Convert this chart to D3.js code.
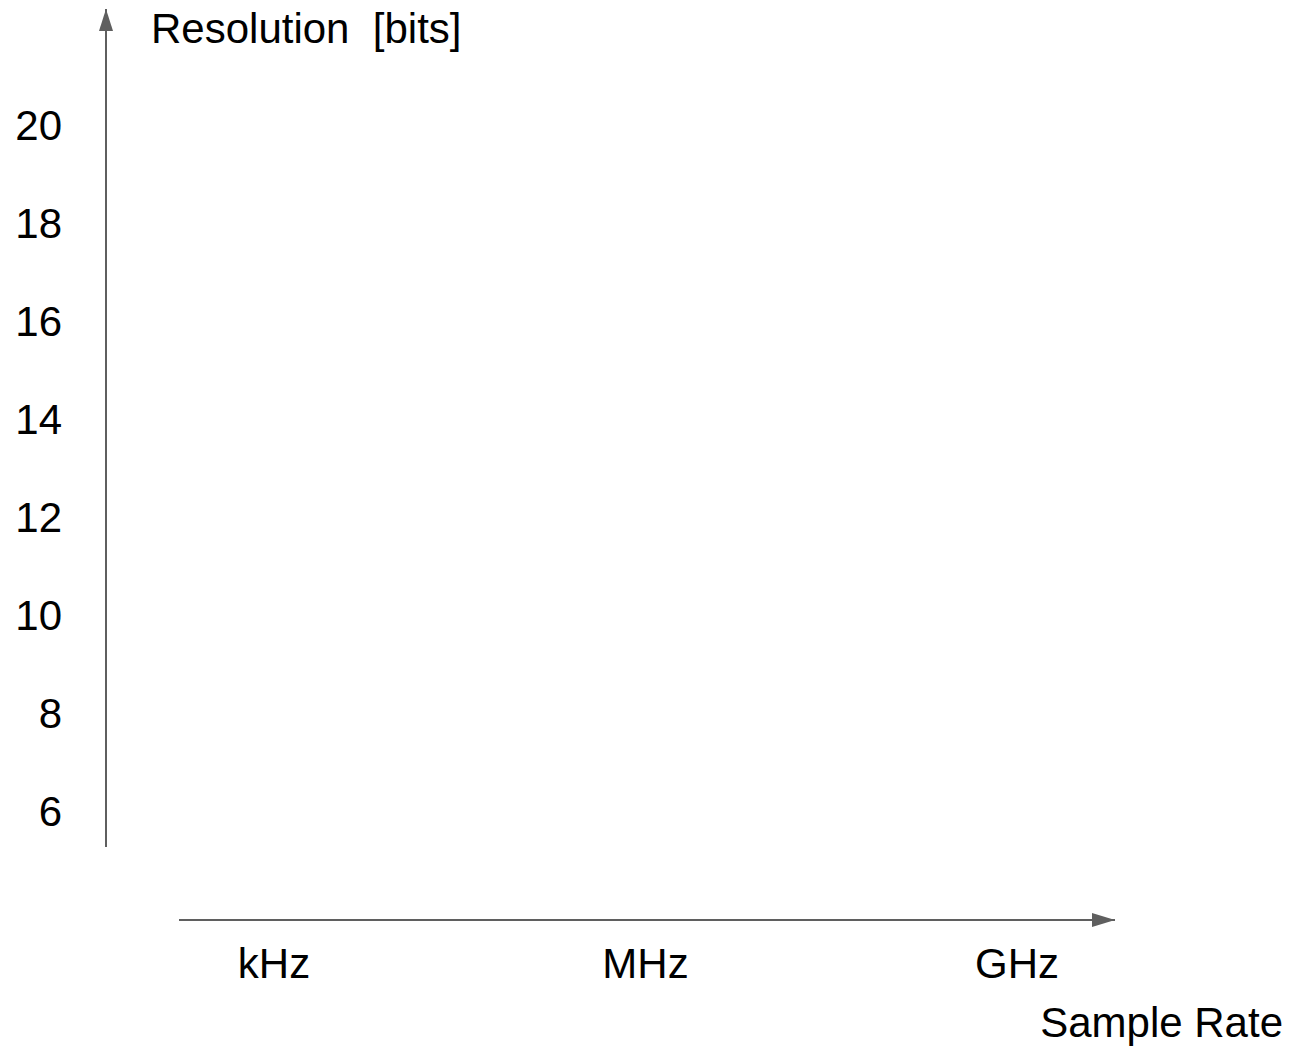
<!DOCTYPE html>
<html>
<head>
<meta charset="utf-8">
<script src="https://cdn.jsdelivr.net/npm/d3@7"></script>
<style>
  html, body { margin: 0; padding: 0; background: #fff; }
  svg { display: block; }
  text { font-family: "Liberation Sans", Arial, sans-serif; fill: #000; }
</style>
</head>
<body>
<script>
// Data
const yTicks = [6, 8, 10, 12, 14, 16, 18, 20];
const xCategories = ["kHz", "MHz", "GHz"];
const yTitle = "Resolution  [bits]";
const xTitle = "Sample Rate";

const W = 1306, H = 1059;
const axisColor = "#5f5f5f";
const fontSize = 42;

const svg = d3.select("body").append("svg").attr("width", W).attr("height", H);

const defs = svg.append("defs");
defs.append("marker")
  .attr("id", "arrowUp")
  .attr("viewBox", "0 0 14 22")
  .attr("refX", 7).attr("refY", 0)
  .attr("markerWidth", 14).attr("markerHeight", 22)
  .attr("markerUnits", "userSpaceOnUse")
  .attr("orient", "0")
  .append("path").attr("d", "M0,22 L7,0 L14,22 Z").attr("fill", axisColor);
defs.append("marker")
  .attr("id", "arrowRight")
  .attr("viewBox", "0 0 23 14")
  .attr("refX", 23).attr("refY", 7)
  .attr("markerWidth", 23).attr("markerHeight", 14)
  .attr("markerUnits", "userSpaceOnUse")
  .attr("orient", "0")
  .append("path").attr("d", "M0,0 L23,7 L0,14 Z").attr("fill", axisColor);

// Scales
const y = d3.scaleLinear().domain([6, 20]).range([811, 125]);
const x = d3.scalePoint().domain(xCategories).range([274, 1017]);

// Y axis line with arrow
svg.append("line")
  .attr("x1", 106).attr("x2", 106)
  .attr("y1", 847).attr("y2", 9)
  .attr("stroke", axisColor).attr("stroke-width", 2)
  .attr("marker-end", "url(#arrowUp)");

// X axis line with arrow
svg.append("line")
  .attr("x1", 179).attr("x2", 1115)
  .attr("y1", 920).attr("y2", 920)
  .attr("stroke", axisColor).attr("stroke-width", 2)
  .attr("marker-end", "url(#arrowRight)");

// Y tick labels
svg.append("g").selectAll("text").data(yTicks).join("text")
  .attr("x", 62)
  .attr("y", d => y(d) + 15)
  .attr("text-anchor", "end")
  .attr("font-size", fontSize)
  .text(d => d);

// X category labels
svg.append("g").selectAll("text").data(xCategories).join("text")
  .attr("x", d => x(d))
  .attr("y", 978)
  .attr("text-anchor", "middle")
  .attr("font-size", fontSize)
  .text(d => d);

// Titles
svg.append("text")
  .attr("x", 151).attr("y", 43)
  .attr("font-size", fontSize)
  .attr("xml:space", "preserve")
  .style("white-space", "pre")
  .text(yTitle);

svg.append("text")
  .attr("x", 1283).attr("y", 1037)
  .attr("text-anchor", "end")
  .attr("font-size", fontSize)
  .text(xTitle);
</script>
</body>
</html>
